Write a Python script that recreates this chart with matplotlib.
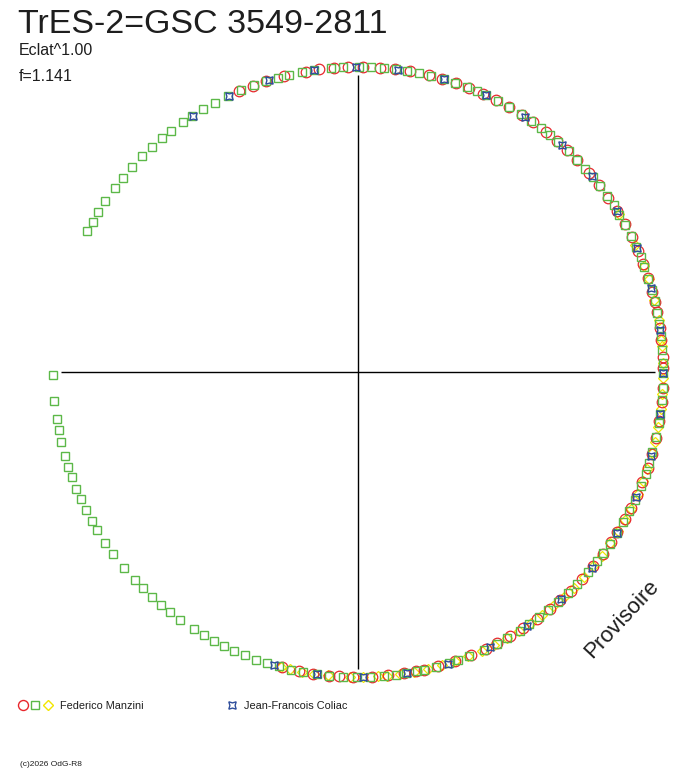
import numpy as np
import matplotlib
matplotlib.use("Agg")
import matplotlib.pyplot as plt
from matplotlib.lines import Line2D

plt.rcParams["font.family"] = ["Liberation Sans", "DejaVu Sans"]

# phase angles in degrees, clockwise from top
manzini_green = [175.1, 177.8, 180.1, 182.9, 185.4, 187.8, 190.3, 192.7, 195.1, 197.3,
                 199.5, 201.7, 203.9, 206.0, 208.2, 210.4, 212.6, 215.7, 218.1, 220.3,
                 222.6, 224.8, 227.1, 230.0, 233.3, 235.9, 238.7, 240.8, 243.1, 245.3,
                 247.5, 249.8, 251.9, 254.1, 256.7, 259.1, 261.2, 264.6, 269.5,
                 297.5, 299.5, 301.6, 304.1, 307.2, 309.5, 312.2, 315.0, 317.5, 320.0,
                 322.3, 324.9, 327.1, 329.4, 332.0, 334.7, 337.5, 340.0, 342.5, 344.8,
                 346.9, 349.4, 351.7, 354.9, 357.1, 0.1, 2.4, 4.8, 7.1, 9.3,
                 11.5, 13.8, 16.4, 18.5, 20.9, 23.0, 24.9, 27.3, 29.7, 32.2,
                 34.5, 36.8, 38.9, 41.1, 43.7, 46.0, 48.2, 50.3, 52.5, 54.8,
                 56.9, 59.0, 61.1, 63.5, 65.8, 67.9, 69.8, 72.2, 74.4, 76.6,
                 78.8, 80.9, 83.2, 85.8, 88.4, 90.2, 93.1, 95.2, 97.9, 99.6,
                 102.4, 105.3, 107.3, 109.5, 111.9, 114.9, 117.2, 119.5, 121.9, 124.3,
                 126.5, 128.4, 131.0, 134.0, 136.4, 139.0, 141.4, 143.5, 145.8, 148.0,
                 150.7, 152.9, 155.5, 158.6, 160.8, 162.6, 165.1, 167.5, 168.9, 170.9,
                 172.9]
manzini_red = [337.0, 339.8, 342.4, 345.9, 350.1, 352.7, 355.5, 358.2, 0.9, 4.1,
               6.9, 9.8, 13.4, 16.0, 18.7, 21.4, 24.1, 27.0, 29.6, 32.5,
               35.1, 38.0, 40.7, 43.2, 46.0, 49.3, 52.2, 55.2, 58.1, 60.9,
               63.8, 66.6, 69.2, 72.0, 74.7, 76.8, 78.7, 81.7, 84.0, 87.1,
               89.3, 93.0, 95.6, 99.2, 102.5, 105.6, 108.3, 111.2, 113.8, 116.5,
               118.9, 121.7, 123.9, 126.6, 129.5, 132.7, 135.8, 138.5, 141.0, 144.1,
               147.2, 150.0, 152.8, 155.2, 158.3, 161.5, 164.8, 167.5, 169.0, 171.3,
               174.3, 177.4, 180.9, 183.5, 185.4, 188.5, 191.1, 194.5]
manzini_yellow = [58.8, 65.3, 69.6, 72.3, 76.4, 80.2, 83.9, 85.2, 88.4, 91.2,
                  94.2, 97.0, 100.3, 103.2, 105.4, 108.5, 111.0, 113.5, 116.6, 119.0,
                  121.5, 124.2, 127.0, 129.5, 132.3, 135.0, 137.6, 140.2, 142.8, 145.5,
                  148.2, 150.8, 153.5, 156.1, 158.8, 161.5, 164.0, 166.7, 169.4, 172.0,
                  174.6, 176.2, 179.0, 181.5, 185.7, 188.2, 190.6, 192.8, 194.7]
coliac_blue = [327.2, 334.9, 343.1, 351.7, 359.6, 7.5, 16.3, 24.9, 33.3, 41.9,
               50.0, 58.2, 66.1, 74.1, 82.0, 90.2, 97.9, 106.0, 114.1, 121.8,
               130.0, 138.2, 146.3, 154.3, 162.9, 170.8, 179.1, 187.8, 195.9]

title = "TrES-2=GSC 3549-2811"
eclat_label = "Eclat^1.00"
freq_label = "f=1.141"
observers = ["Federico Manzini", "Jean-Francois Coliac"]

RED = "#e8262c"
GREEN = "#5cb848"
YELLOW = "#f2e600"
BLUE = "#2f4e9c"
TXT = "#1e1e1e"


def to_xy(deg):
    a = np.radians(np.asarray(deg))
    return np.sin(a), np.cos(a)


W, H = 688, 768
CX, CY, R = 358, 372, 305
fig = plt.figure(figsize=(W / 100, H / 100), dpi=100)
ax = fig.add_axes([0, 0, 1, 1])
ax.set_xlim(-CX / R, (W - CX) / R)
ax.set_ylim((CY - H) / R, CY / R)
ax.axis("off")

ax.hlines(0, -0.975, 0.975, color="black", lw=1)
ax.vlines(0, -0.975, 0.975, color="black", lw=1)

x, y = to_xy(manzini_yellow)
ax.plot(x, y, ls="none", marker="D", ms=4.6, mfc="none", mec=YELLOW, mew=0.9)
x, y = to_xy(manzini_red)
ax.plot(x, y, ls="none", marker="o", ms=7.6, mfc="none", mec=RED, mew=0.9)
x, y = to_xy(manzini_green)
ax.plot(x, y, ls="none", marker="s", ms=5.6, mfc="none", mec=GREEN, mew=1.0)
x, y = to_xy(coliac_blue)
ax.plot(x, y, ls="none", marker=(4, 1, 45), ms=7.5, mfc="none", mec=BLUE, mew=1.0)

# texts
fig.text(18 / W, 1 - 33 / H, title, fontsize=24.5, color=TXT, va="baseline")
fig.text(19 / W, 1 - 55 / H, eclat_label, fontsize=11.5, color=TXT, va="baseline")
fig.text(19 / W, 1 - 81 / H, freq_label, fontsize=11.5, color=TXT, va="baseline")
fig.text(592 / W, 1 - 659 / H, "Provisoire", fontsize=16, color=TXT,
         rotation=47, rotation_mode="anchor", ha="left", va="baseline")

# legend
ly = 1 - 704.7 / H
for px, mk, ms, col in [(22.7, "o", 7.2, RED), (35, "s", 5.2, GREEN),
                        (47.7, "D", 5.2, YELLOW), (232.3, (4, 1, 45), 7.5, BLUE)]:
    fig.add_artist(Line2D([px / W], [ly], transform=fig.transFigure, ls="none",
                          marker=mk, ms=ms, mfc="none", mec=col, mew=1.0))
fig.text(60 / W, 1 - 709 / H, observers[0], fontsize=7.8, color=TXT, va="baseline")
fig.text(244 / W, 1 - 709 / H, observers[1], fontsize=7.9, color=TXT, va="baseline")
fig.text(20 / W, 1 - 766 / H, "(c)2026 OdG-R8", fontsize=6, color=TXT, va="baseline")

fig.savefig("out.png", dpi=100)
